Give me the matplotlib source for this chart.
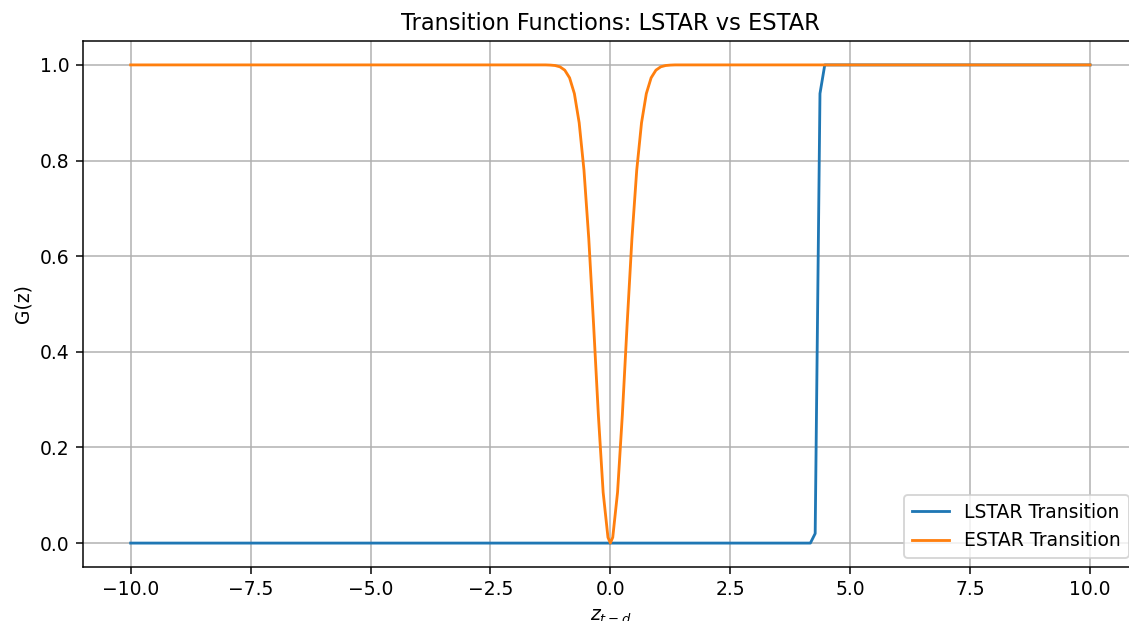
import matplotlib.pyplot as plt

# ESTAR transition (flat at 1 outside the dip)
estar_z = [-10.0, -1.45, -1.35, -1.25, -1.15, -1.05, -0.95, -0.85, -0.75, -0.65,
           -0.55, -0.45, -0.35, -0.25, -0.15, -0.05, 0.0, 0.05, 0.15, 0.25, 0.35,
           0.45, 0.55, 0.65, 0.75, 0.85, 0.95, 1.05, 1.15, 1.25, 1.35, 1.45, 10.0]
estar_g = [1.0, 1.0, 1.0, 0.9996, 0.9987, 0.996, 0.989, 0.973, 0.940, 0.879,
           0.780, 0.637, 0.458, 0.268, 0.106, 0.012, 0.0, 0.012, 0.106, 0.268, 0.458,
           0.637, 0.780, 0.879, 0.940, 0.973, 0.989, 0.996, 0.9987, 0.9996, 1.0, 1.0, 1.0]

# LSTAR transition: sharp jump near z = 4.3
lstar_z = [-10.0, 4.17, 4.27, 4.37, 4.47, 10.0]
lstar_g = [0.0, 0.0, 0.02, 0.94, 1.0, 1.0]

DPI = 135
fig = plt.figure(figsize=(1129 / DPI, 621 / DPI), dpi=DPI)
# axes run slightly past the right edge, as in the cropped original
ax = fig.add_axes([82.7 / 1129, (621 - 567) / 621, (1138 - 82.7) / 1129, (567 - 41) / 621])

ax.plot(lstar_z, lstar_g, label="LSTAR Transition")
ax.plot(estar_z, estar_g, label="ESTAR Transition")

ax.set_xlim(-11, 11)
ax.set_ylim(-0.05, 1.05)
ax.set_title("Transition Functions: LSTAR vs ESTAR")
ax.set_xlabel("$z_{t-d}$")
ax.set_ylabel("G(z)")
ax.legend(loc="lower right")
ax.grid(True)

plt.savefig("out.png", dpi=DPI)
